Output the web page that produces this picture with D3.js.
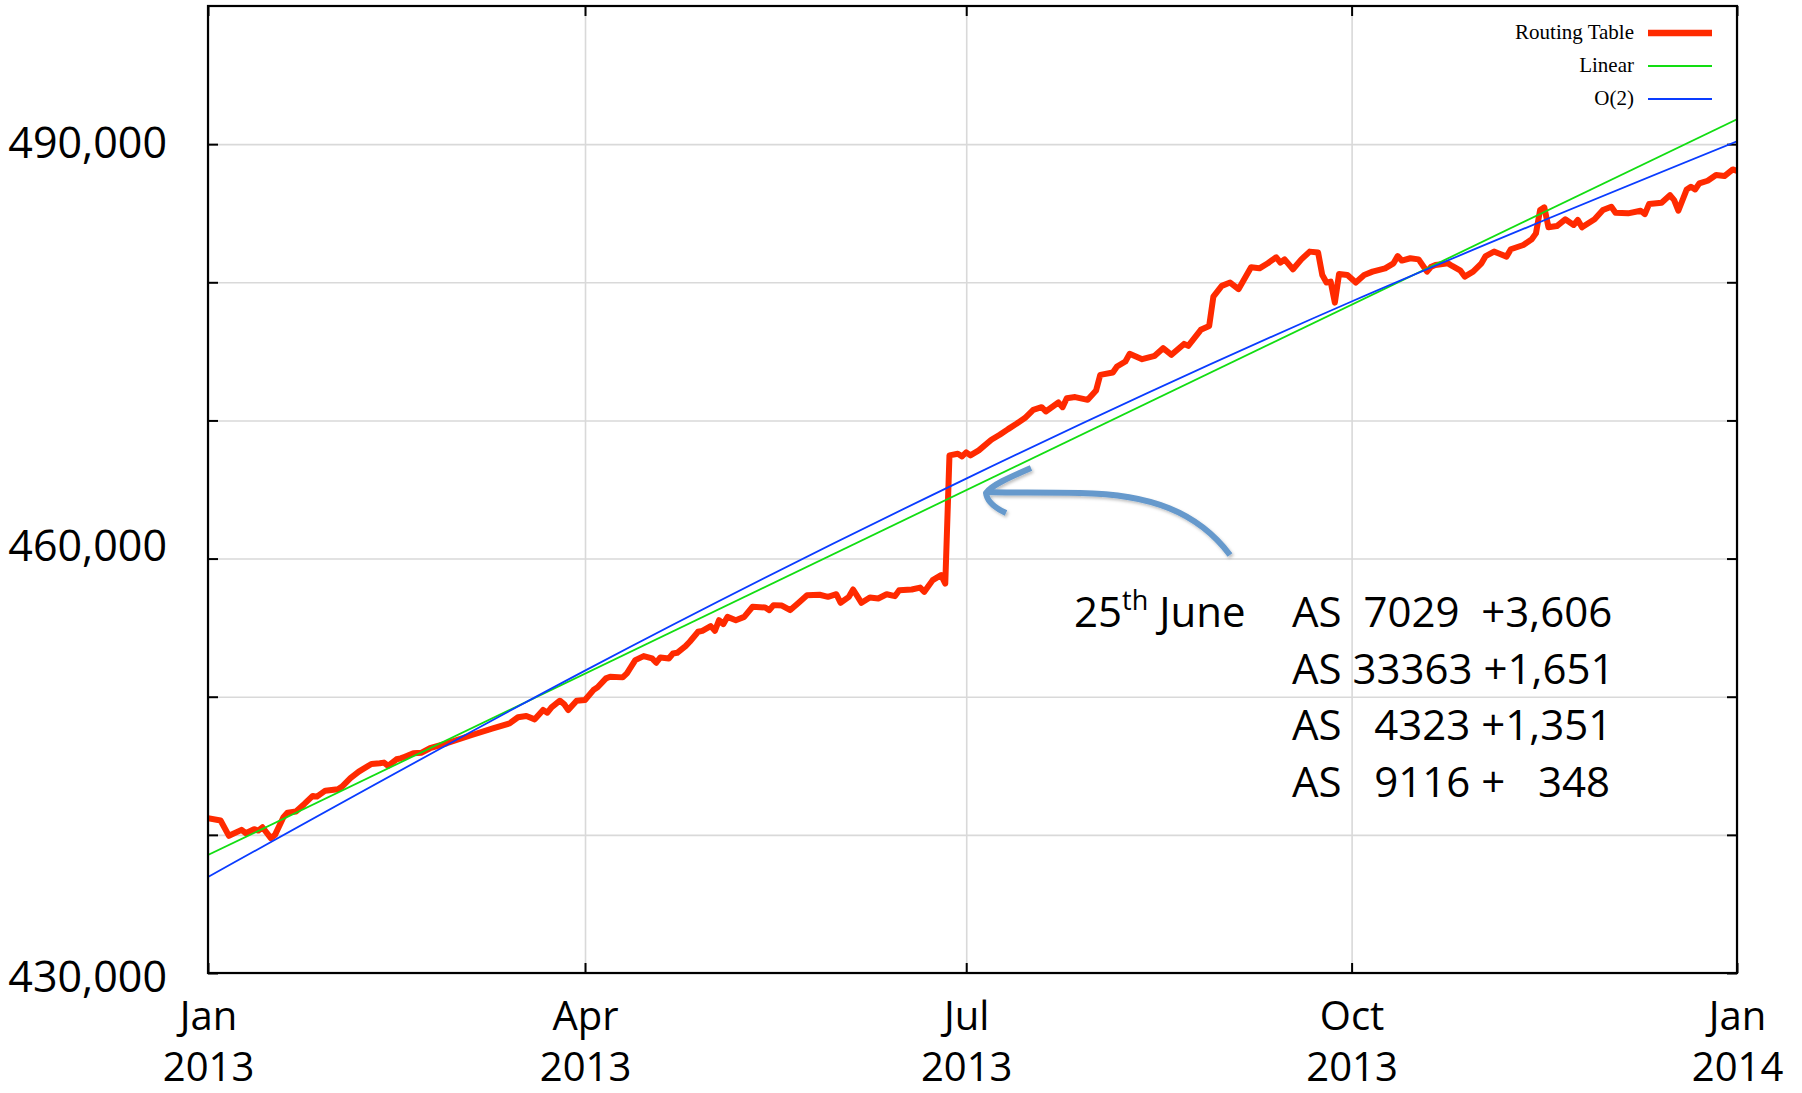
<!DOCTYPE html>
<html>
<head>
<meta charset="utf-8">
<script src="https://cdn.jsdelivr.net/npm/d3@7/dist/d3.min.js"></script>
<style>
  body { margin: 0; background: #fff; }
  svg text { white-space: pre; }
</style>
</head>
<body>
<svg id="chart"></svg>
<script>
// ----------------------------------------- Data -----------------------------------------

var tableDates = [
  "2013-01-01","2013-01-04","2013-01-06","2013-01-09","2013-01-10","2013-01-12","2013-01-13","2013-01-14",
  "2013-01-16","2013-01-17","2013-01-19","2013-01-20","2013-01-22","2013-01-24","2013-01-26","2013-01-27",
  "2013-01-29","2013-02-01","2013-02-02","2013-02-04","2013-02-06","2013-02-09","2013-02-11","2013-02-12",
  "2013-02-13","2013-02-15","2013-02-16","2013-02-17","2013-02-19","2013-02-21","2013-02-23","2013-02-27",
  "2013-03-05","2013-03-10","2013-03-14","2013-03-16","2013-03-18","2013-03-20","2013-03-22","2013-03-23",
  "2013-03-24","2013-03-26","2013-03-27","2013-03-28","2013-03-30","2013-04-01","2013-04-03","2013-04-04",
  "2013-04-06","2013-04-07","2013-04-10","2013-04-11","2013-04-13","2013-04-15","2013-04-17","2013-04-18",
  "2013-04-19","2013-04-21","2013-04-22","2013-04-23","2013-04-25","2013-04-26","2013-04-28","2013-04-29",
  "2013-05-01","2013-05-02","2013-05-03","2013-05-04","2013-05-05","2013-05-07","2013-05-09","2013-05-11",
  "2013-05-14","2013-05-15","2013-05-16","2013-05-18","2013-05-20","2013-05-22","2013-05-24","2013-05-27",
  "2013-05-29","2013-05-31","2013-06-01","2013-06-03","2013-06-04","2013-06-06","2013-06-08","2013-06-10",
  "2013-06-12","2013-06-14","2013-06-15","2013-06-18","2013-06-20","2013-06-21","2013-06-23","2013-06-25",
  "2013-06-26","2013-06-27","2013-06-29","2013-06-30","2013-07-01","2013-07-02","2013-07-04","2013-07-07",
  "2013-07-09","2013-07-11","2013-07-13","2013-07-15","2013-07-17","2013-07-19","2013-07-20","2013-07-23",
  "2013-07-24","2013-07-25","2013-07-27","2013-07-30","2013-08-01","2013-08-02","2013-08-05","2013-08-06",
  "2013-08-08","2013-08-09","2013-08-12","2013-08-15","2013-08-17","2013-08-19","2013-08-22","2013-08-23",
  "2013-08-26","2013-08-28","2013-08-29","2013-08-31","2013-09-02","2013-09-04","2013-09-07","2013-09-09",
  "2013-09-11","2013-09-13","2013-09-14","2013-09-15","2013-09-17","2013-09-19","2013-09-21","2013-09-23",
  "2013-09-24","2013-09-25","2013-09-26","2013-09-27","2013-09-28","2013-09-30","2013-10-02","2013-10-04",
  "2013-10-06","2013-10-09","2013-10-11","2013-10-12","2013-10-13","2013-10-15","2013-10-17","2013-10-19",
  "2013-10-20","2013-10-21","2013-10-24","2013-10-25","2013-10-27","2013-10-28","2013-10-30","2013-11-01",
  "2013-11-02","2013-11-04","2013-11-05","2013-11-07","2013-11-08","2013-11-11","2013-11-13","2013-11-14",
  "2013-11-15","2013-11-16","2013-11-17","2013-11-19","2013-11-21","2013-11-23","2013-11-24","2013-11-25",
  "2013-11-28","2013-11-30","2013-12-02","2013-12-03","2013-12-06","2013-12-09","2013-12-10","2013-12-11",
  "2013-12-14","2013-12-16","2013-12-17","2013-12-18","2013-12-20","2013-12-21","2013-12-22","2013-12-23",
  "2013-12-25","2013-12-27","2013-12-29","2013-12-31","2014-01-01"
];

var tableValues = [
  441200,441040,439930,440360,440120,440410,440310,440550,
  439760,440000,441280,441610,441690,442240,442820,442770,
  443200,443300,443490,444100,444580,445130,445180,445230,
  444990,445470,445540,445660,445900,445950,446270,446630,
  447230,447710,448070,448510,448600,448360,449040,448840,
  449230,449710,449470,449040,449710,449760,450480,450680,
  451330,451450,451400,451690,452650,452940,452770,452460,
  452840,452770,453130,453180,453660,453980,454700,454770,
  455110,454770,455540,455250,455780,455540,455780,456510,
  456460,456270,456630,456600,456270,456800,457350,457380,
  457230,457420,456800,457230,457760,456800,457180,457110,
  457420,457280,457710,457760,457900,457590,458440,458800,
  458190,467470,467590,467400,467690,467470,467830,468600,
  468960,469370,469760,470170,470770,470960,470650,471300,
  470960,471610,471690,471490,472170,473300,473470,473900,
  474270,474820,474430,474680,475230,474750,475540,475400,
  476560,476840,478960,479740,479980,479500,481090,481010,
  481380,481810,481420,481660,480940,481660,482220,482150,
  480530,479980,480050,478530,480600,480530,479980,480530,
  480770,481010,481370,481900,481570,481740,481660,480770,
  481130,481250,481370,481180,480840,480410,480770,481370,
  481900,482220,482100,481860,482390,482700,483110,483540,
  485230,485420,483980,484070,484560,484150,484510,483980,
  484560,485230,485470,485040,484990,485180,484940,485660,
  485760,486310,485950,485180,486720,486920,486720,487160,
  487350,487760,487690,488170,488070
];

var linearDates = ["2013-01-01", "2014-01-01"];
var linearValues = [438540, 491800];

var quadDates = ["2013-01-01", "2013-04-01", "2013-07-01", "2013-10-01", "2014-01-01"];
var quadValues = [436950, 451890, 465790, 478610, 490200];

var xTickDates = ["2013-01-01", "2013-04-01", "2013-07-01", "2013-10-01", "2014-01-01"];
var yGridValues = [430000, 440000, 450000, 460000, 470000, 480000, 490000];
var yLabelValues = [430000, 460000, 490000];

var legendNames = ["Routing Table", "Linear", "O(2)"];

var noteDay = "25";
var noteSup = "th";
var noteMonth = " June";
var noteRows = ["AS  7029  +3,606", "AS 33363 +1,651", "AS   4323 +1,351", "AS   9116 +   348"];

// ----------------------------------------- Setup -----------------------------------------

var width = 1802;
var height = 1093;
var plot = { left: 208, right: 1737, top: 6, bottom: 973 };

var parse = d3.timeParse("%Y-%m-%d");
var sansFont = "'Open Sans', 'Noto Sans', sans-serif";
var serifFont = "'Liberation Serif', 'DejaVu Serif', serif";

var colors = { table: "#ff2a00", linear: "#12dd12", quad: "#0a3cff", grid: "#d9d9d9", arrow: "#6699cc" };

var svg = d3.select("#chart")
  .attr("width", width)
  .attr("height", height)
  .style("display", "block")
  .style("background", "#fff");

var xScale = d3.scaleTime()
  .domain([parse("2013-01-01"), parse("2014-01-01")])
  .range([plot.left, plot.right]);

var yScale = d3.scaleLinear()
  .domain([430000, 500000])
  .range([plot.bottom, plot.top]);

var xTicks = xTickDates.map(parse);
var plotW = plot.right - plot.left;
var plotH = plot.bottom - plot.top;

svg.append("defs").append("clipPath")
    .attr("id", "plotClip")
  .append("rect")
    .attr("x", plot.left)
    .attr("y", plot.top)
    .attr("width", plotW)
    .attr("height", plotH);

// ----------------------------------------- Grid -----------------------------------------

svg.append("g")
    .attr("class", "x-grid")
    .attr("transform", `translate(0, ${plot.bottom})`)
    .call(d3.axisBottom(xScale).tickValues(xTicks).tickSize(-plotH).tickFormat(""));

svg.append("g")
    .attr("class", "y-grid")
    .attr("transform", `translate(${plot.left}, 0)`)
    .call(d3.axisLeft(yScale).tickValues(yGridValues).tickSize(-plotW).tickFormat(""));

svg.selectAll(".x-grid, .y-grid").select(".domain").remove();
svg.selectAll(".x-grid line, .y-grid line")
    .attr("stroke", colors.grid)
    .attr("stroke-width", 1.6);

// inward ticks on all four sides
function tickAxis(axis, transform) {
  var g = svg.append("g")
      .attr("transform", transform)
      .call(axis.tickSize(10).tickFormat(""));
  g.select(".domain").remove();
  g.selectAll("line").attr("stroke", "#000").attr("stroke-width", 2);
}
tickAxis(d3.axisRight(yScale).tickValues(yGridValues), `translate(${plot.left}, 0)`);
tickAxis(d3.axisLeft(yScale).tickValues(yGridValues), `translate(${plot.right}, 0)`);
tickAxis(d3.axisBottom(xScale).tickValues(xTicks), `translate(0, ${plot.top})`);
tickAxis(d3.axisTop(xScale).tickValues(xTicks), `translate(0, ${plot.bottom})`);

// ----------------------------------------- Lines -----------------------------------------

var tableData = tableDates.map((d, i) => ({ date: parse(d), value: tableValues[i] }));
var linearData = linearDates.map((d, i) => ({ date: parse(d), value: linearValues[i] }));
var quadData = quadDates.map((d, i) => ({ date: parse(d), value: quadValues[i] }));

var line = d3.line()
  .x(d => xScale(d.date))
  .y(d => yScale(d.value));

var lines = svg.append("g").attr("clip-path", "url(#plotClip)");

lines.append("path")
    .datum(tableData)
    .attr("d", line)
    .attr("fill", "none")
    .attr("stroke", colors.table)
    .attr("stroke-width", 6)
    .attr("stroke-linejoin", "round");

lines.append("path")
    .datum(linearData)
    .attr("d", line)
    .attr("fill", "none")
    .attr("stroke", colors.linear)
    .attr("stroke-width", 1.8);

lines.append("path")
    .datum(quadData)
    .attr("d", line.curve(d3.curveNatural))
    .attr("fill", "none")
    .attr("stroke", colors.quad)
    .attr("stroke-width", 1.8);

// frame
svg.append("rect")
    .attr("x", plot.left)
    .attr("y", plot.top)
    .attr("width", plotW)
    .attr("height", plotH)
    .attr("fill", "none")
    .attr("stroke", "#000")
    .attr("stroke-width", 2.2);

// ----------------------------------------- Axis labels -----------------------------------------

// the labels in the original sit a little off their gridlines
var yLabelShift = { 430000: 5, 460000: -12, 490000: 0 };

var yAxis = svg.append("g")
    .attr("class", "y-axis")
    .attr("transform", `translate(${plot.left}, 0)`)
    .call(d3.axisLeft(yScale).tickValues(yLabelValues).tickSize(0).tickPadding(41).tickFormat(d3.format(",")));
yAxis.select(".domain").remove();
yAxis.selectAll("text")
    .attr("font-family", sansFont)
    .attr("font-size", 43)
    .attr("fill", "#000")
    .attr("y", d => yLabelShift[d] || 0);

var xAxis = svg.append("g")
    .attr("class", "x-axis")
    .attr("transform", `translate(0, ${plot.bottom})`)
    .call(d3.axisBottom(xScale).tickValues(xTicks).tickSize(0).tickFormat(""));
xAxis.select(".domain").remove();
xAxis.selectAll(".tick text")
    .attr("font-family", sansFont)
    .attr("font-size", 40)
    .attr("fill", "#000")
    .attr("dy", null)
    .attr("y", 0)
    .each(function(d) {
      var t = d3.select(this);
      t.append("tspan").attr("x", 0).attr("y", 57).text(d3.timeFormat("%b")(d));
      t.append("tspan").attr("x", 0).attr("y", 108).text(d3.timeFormat("%Y")(d));
    });

// ----------------------------------------- Legend -----------------------------------------

var legendColors = [colors.table, colors.linear, colors.quad];
var legendWidths = [6.5, 1.8, 1.8];

var legend = svg.append("g").attr("class", "legend");
legendNames.forEach(function(name, i) {
  var cy = 33 + i * 33;
  legend.append("text")
      .attr("x", 1634)
      .attr("y", cy + 6)
      .attr("text-anchor", "end")
      .attr("font-family", serifFont)
      .attr("font-size", 21)
      .attr("fill", "#000")
      .text(name);
  legend.append("line")
      .attr("x1", 1648)
      .attr("x2", 1712)
      .attr("y1", cy)
      .attr("y2", cy)
      .attr("stroke", legendColors[i])
      .attr("stroke-width", legendWidths[i]);
});

// ----------------------------------------- Annotation -----------------------------------------

var shadow = svg.select("defs").append("filter")
    .attr("id", "arrowShadow")
    .attr("x", "-20%").attr("y", "-20%")
    .attr("width", "140%").attr("height", "140%");
shadow.append("feDropShadow")
    .attr("dx", 1.5).attr("dy", 2)
    .attr("stdDeviation", 1.5)
    .attr("flood-color", "#000")
    .attr("flood-opacity", 0.25);

var arrow = svg.append("g")
    .attr("fill", "none")
    .attr("stroke", colors.arrow)
    .attr("stroke-width", 6)
    .attr("stroke-linecap", "butt")
    .attr("stroke-linejoin", "round")
    .attr("filter", "url(#arrowShadow)");

arrow.append("path")
    .attr("d", "M1230,555 C1198,512 1150,494 1080,493 C1040,492 1008,493 988,492");
arrow.append("path")
    .attr("d", "M1031,468 C1008,478 992,485 986,493 C987,501 995,508 1006,513");

var note = svg.append("g")
    .attr("font-family", sansFont)
    .attr("font-size", 42)
    .attr("fill", "#000");

var dateText = note.append("text")
    .attr("x", 1074)
    .attr("y", 627);
dateText.append("tspan").text(noteDay);
dateText.append("tspan").attr("font-size", 27).attr("dy", -17).text(noteSup);
dateText.append("tspan").attr("dy", 17).text(noteMonth);

noteRows.forEach(function(row, i) {
  note.append("text")
      .attr("x", 1292)
      .attr("y", 627 + i * 56.5)
      .text(row);
});
</script>
</body>
</html>
